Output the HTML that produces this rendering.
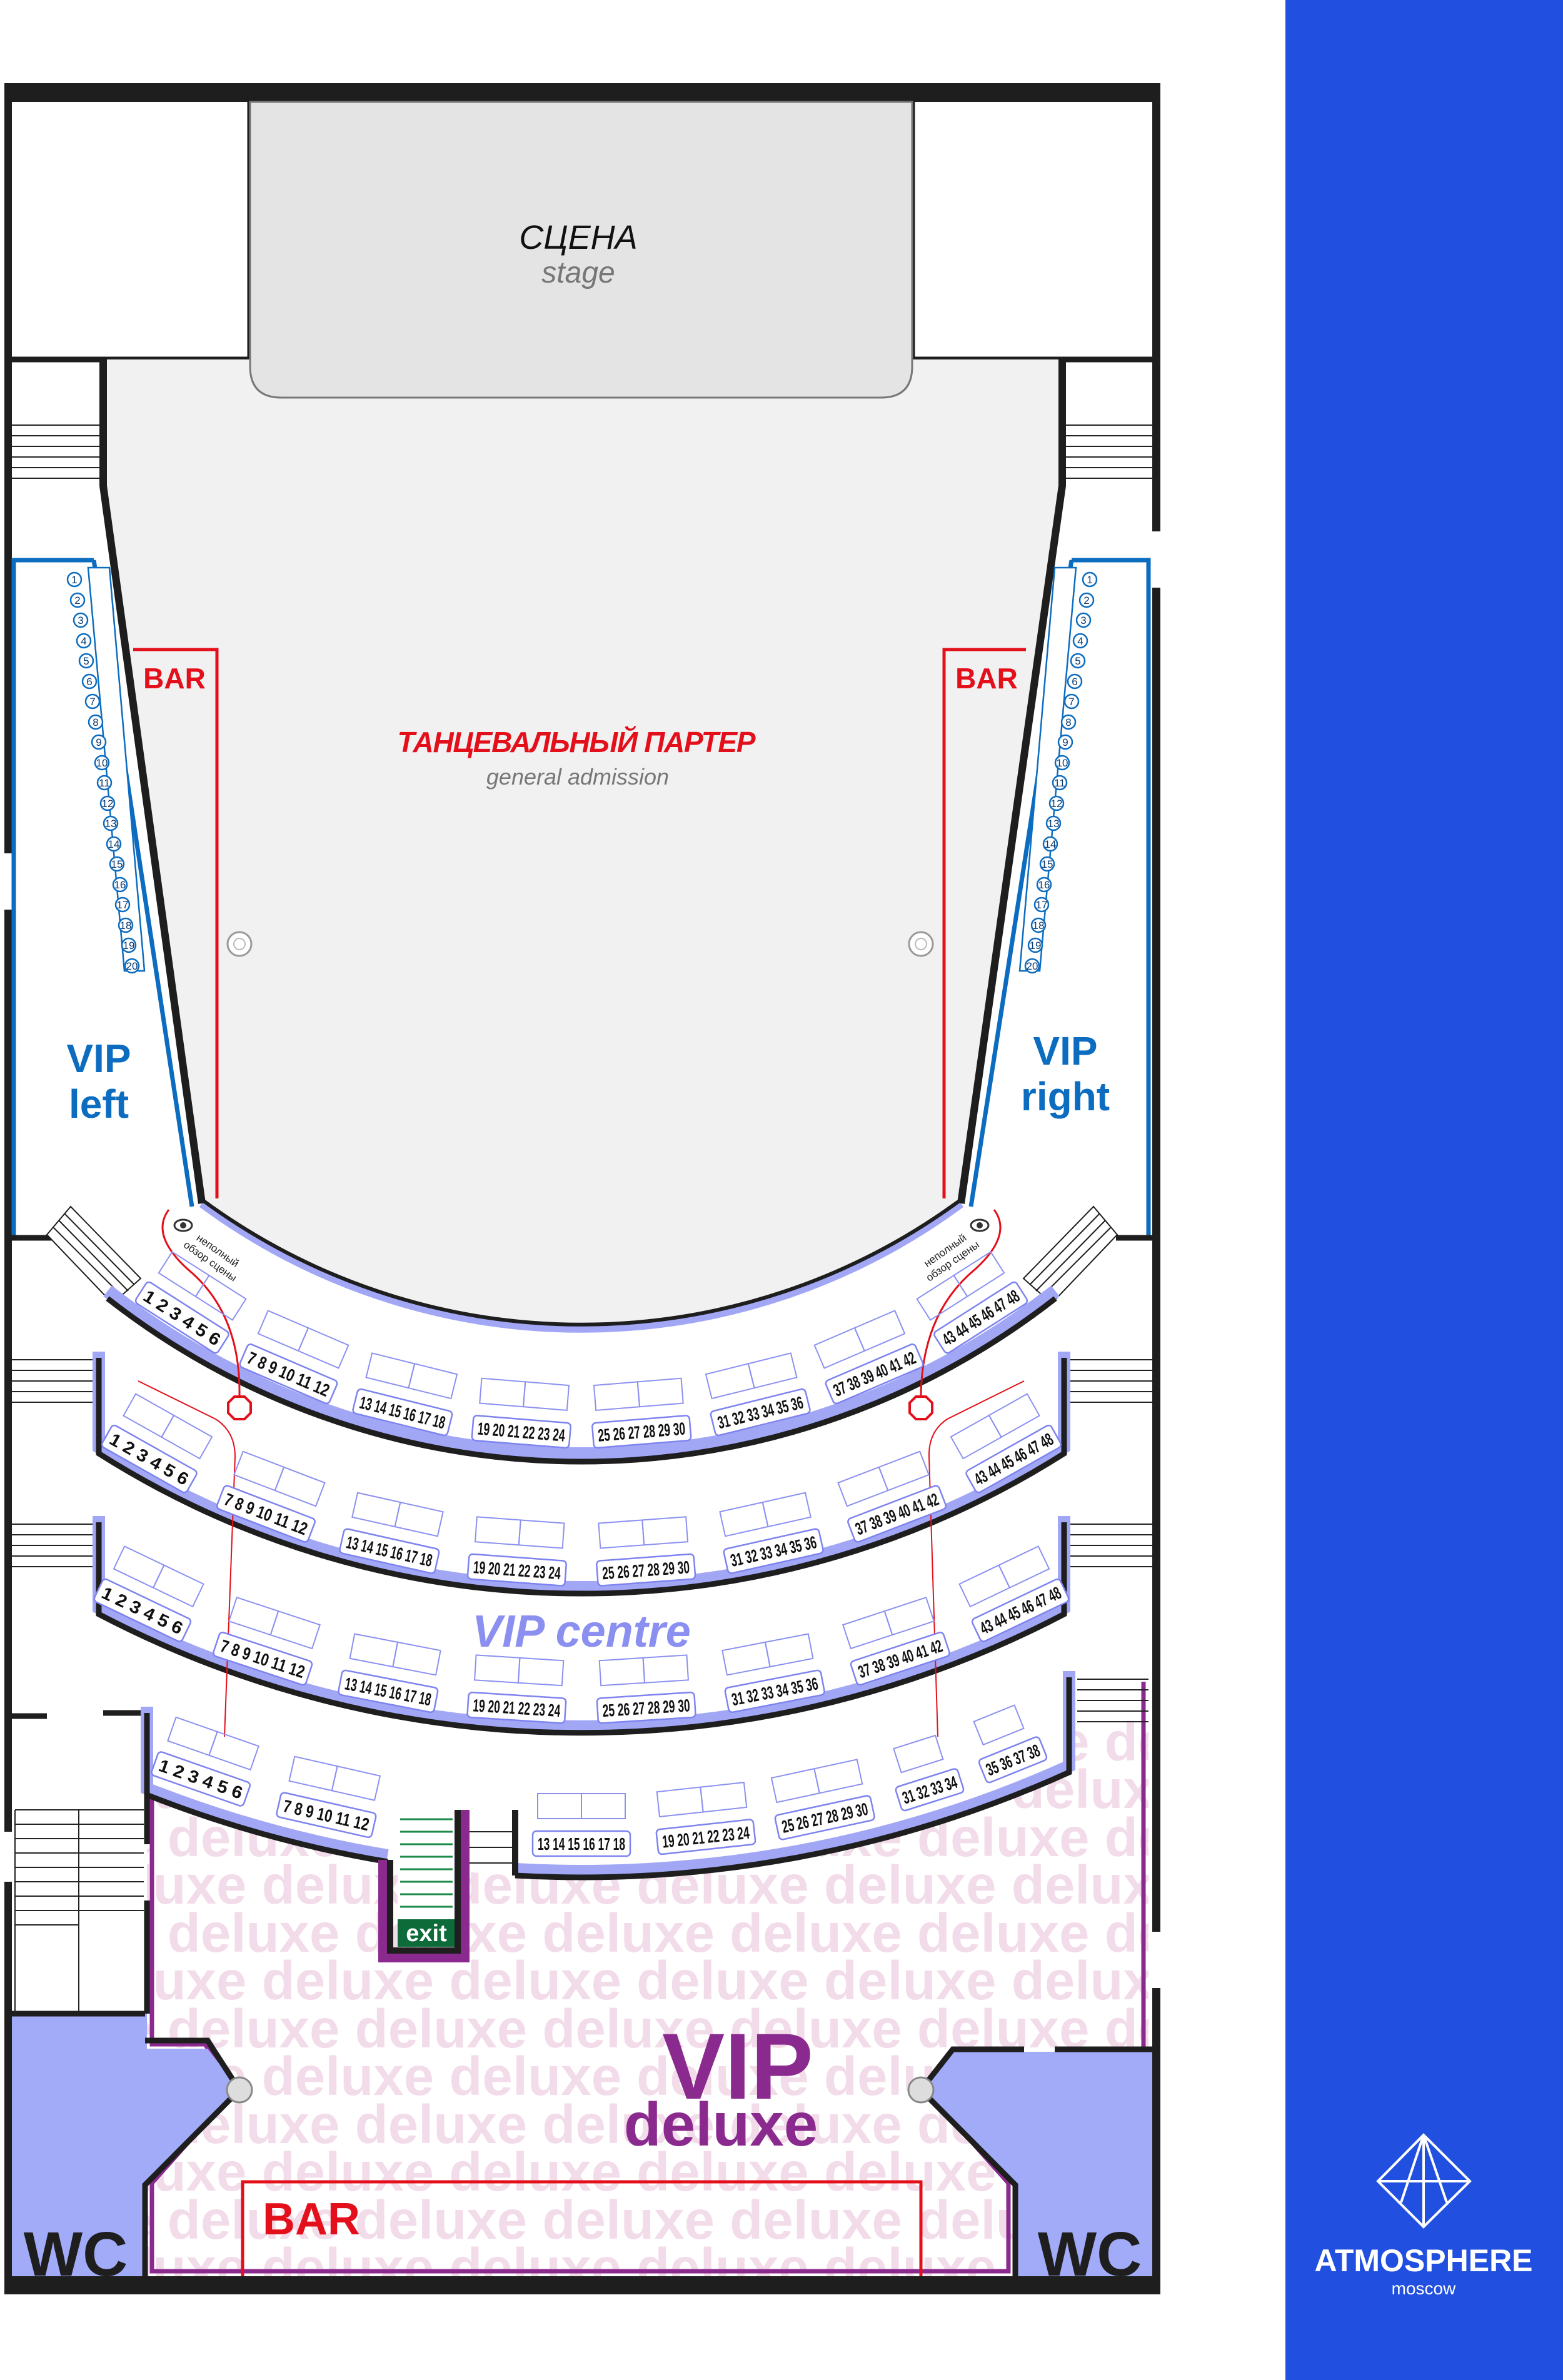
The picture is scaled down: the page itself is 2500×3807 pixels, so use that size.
<!DOCTYPE html>
<html><head><meta charset="utf-8"><style>
html,body{margin:0;padding:0;background:#fff}
svg{display:block}
.s{fill:#fff;stroke:#7d83ef;stroke-width:2.5}
.t{fill:none;stroke:#8c91f0;stroke-width:2}
.n{font-family:"Liberation Sans",sans-serif;font-weight:bold;font-size:28px;fill:#111;text-anchor:middle}
.c{fill:#fff;stroke:#0b6cc0;stroke-width:2.5}
.cn{font-family:"Liberation Sans",sans-serif;font-size:17px;fill:#0b3a70;text-anchor:middle}
.st{stroke:#222;stroke-width:2}
.wm{font-family:"Liberation Sans",sans-serif;font-weight:bold;font-size:87px;fill:#f3dcea}
</style></head><body>
<svg width="2500" height="3807" viewBox="0 0 2500 3807" xmlns="http://www.w3.org/2000/svg">
<defs>
<clipPath id="dl"><path d="M235 2871 A1896 1896 0 0 0 1710 2835 L1710 2683 L1837 2683 L1837 3282 L1524 3282 L1473 3343 L1621 3495 L1621 3641 L235 3641 L235 3495 L383 3343 L332 3277 L235 3277 Z"/></clipPath>
</defs>
<rect width="2500" height="3807" fill="#fff"/>
<rect x="2056" y="0" width="444" height="3807" fill="#2150e0"/>
<g stroke="#fff" stroke-width="4" fill="none">
<polygon points="2277,3415 2351,3489 2277,3562 2204,3489"/>
<line x1="2277" y1="3415" x2="2241" y2="3523"/><line x1="2277" y1="3415" x2="2314" y2="3523"/>
<line x1="2277" y1="3415" x2="2277" y2="3562"/><line x1="2204" y1="3489" x2="2351" y2="3489"/>
</g>
<text x="2277" y="3633" text-anchor="middle" font-family="Liberation Sans,sans-serif" font-weight="bold" font-size="50" fill="#fff">ATMOSPHERE</text>
<text x="2277" y="3670" text-anchor="middle" font-family="Liberation Sans,sans-serif" font-size="28" fill="#fff">moscow</text>

<g clip-path="url(#dl)">
<rect x="0" y="2600" width="1900" height="1100" fill="#fff"/>
<g class="wm">
<text x="-32" y="2816">deluxe deluxe deluxe deluxe deluxe deluxe deluxe deluxe</text>
<text x="-181" y="2892">deluxe deluxe deluxe deluxe deluxe deluxe deluxe deluxe</text>
<text x="-32" y="2969">deluxe deluxe deluxe deluxe deluxe deluxe deluxe deluxe</text>
<text x="-181" y="3045">deluxe deluxe deluxe deluxe deluxe deluxe deluxe deluxe</text>
<text x="-32" y="3122">deluxe deluxe deluxe deluxe deluxe deluxe deluxe deluxe</text>
<text x="-181" y="3198">deluxe deluxe deluxe deluxe deluxe deluxe deluxe deluxe</text>
<text x="-32" y="3275">deluxe deluxe deluxe deluxe deluxe deluxe deluxe deluxe</text>
<text x="-181" y="3351">deluxe deluxe deluxe deluxe deluxe deluxe deluxe deluxe</text>
<text x="-32" y="3428">deluxe deluxe deluxe deluxe deluxe deluxe deluxe deluxe</text>
<text x="-181" y="3504">deluxe deluxe deluxe deluxe deluxe deluxe deluxe deluxe</text>
<text x="-32" y="3581">deluxe deluxe deluxe deluxe deluxe deluxe deluxe deluxe</text>
<text x="-181" y="3657">deluxe deluxe deluxe deluxe deluxe deluxe deluxe deluxe</text>
</g>
</g>
<path d="M243 2871 L243 3270 L328 3270 L376 3343 L243 3492 L243 3633 L1613 3633 L1613 3492 L1480 3343 L1528 3290 L1829 3290 L1829 2690" fill="none" stroke="#8b2a8e" stroke-width="7"/>
<polygon points="19,3221 235,3221 235,3277 332,3277 383,3343 235,3495 235,3641 19,3641" fill="#a2abf8"/>
<polygon points="1845,3282 1524,3282 1473,3343 1621,3495 1621,3641 1845,3641" fill="#a2abf8"/>
<g stroke="#1e1e1e" stroke-width="9" fill="none">
<polyline points="19,3221 232,3221"/>
<polyline points="232,3264 332,3264 383,3343 232,3495 232,3641"/>
<polyline points="1638,3278 1524,3278 1473,3343 1624,3495 1624,3641"/>
<line x1="1687" y1="3278" x2="1845" y2="3278"/>
</g>
<text x="121" y="3640" text-anchor="middle" font-family="Liberation Sans,sans-serif" font-weight="bold" font-size="100" fill="#1e1e1e">WC</text>
<text x="1743" y="3640" text-anchor="middle" font-family="Liberation Sans,sans-serif" font-weight="bold" font-size="100" fill="#1e1e1e">WC</text>
<circle cx="383" cy="3343" r="20" fill="#ddd" stroke="#888" stroke-width="3"/>
<circle cx="1473" cy="3343" r="20" fill="#ddd" stroke="#888" stroke-width="3"/>
<polyline points="388,3641 388,3490 1473,3490 1473,3641" fill="none" stroke="#e3101b" stroke-width="5"/>
<text x="498" y="3574" text-anchor="middle" font-family="Liberation Sans,sans-serif" font-weight="bold" font-size="72" fill="#e3101b">BAR</text>
<text x="1180" y="3357" text-anchor="middle" font-family="Liberation Sans,sans-serif" font-weight="bold" font-size="150" fill="#8b2a8e">VIP</text>
<text x="1153" y="3432" text-anchor="middle" font-family="Liberation Sans,sans-serif" font-weight="bold" font-size="98" fill="#8b2a8e">deluxe</text>

<rect x="7" y="133" width="1849" height="30" fill="#1e1e1e"/>
<rect x="7" y="3641" width="1849" height="29" fill="#1e1e1e"/>
<rect x="7" y="133" width="12" height="3537" fill="#1e1e1e"/>
<rect x="1843" y="133" width="13" height="3537" fill="#1e1e1e"/>
<rect x="7" y="2930" width="14" height="80" fill="#fff"/>
<rect x="1843" y="3090" width="13" height="90" fill="#fff"/>
<rect x="1843" y="850" width="13" height="90" fill="#fff"/>
<rect x="7" y="1365" width="12" height="90" fill="#fff"/>
<g fill="none" stroke="#1e1e1e" stroke-width="9">
<polyline points="19,575 400,575 400,160"/>
<polyline points="1845,575 1459,575 1459,160"/>
</g>
<path d="M165 575 L1699 575 L1699 777 L1537 1925 A1022 1022 0 0 1 323 1925 L165 777 Z" fill="#f1f1f1"/>
<path d="M323 1925 A1022 1022 0 0 0 1537 1925" fill="none" stroke="#a2a7f5" stroke-width="14"/>
<path d="M323 1925 A1022 1022 0 0 0 1537 1925" fill="none" stroke="#1e1e1e" stroke-width="6" transform="translate(0,-6)"/>
<path d="M165 575 L165 777 L323 1925" fill="none" stroke="#1e1e1e" stroke-width="12"/>
<path d="M1699 575 L1699 777 L1537 1925" fill="none" stroke="#1e1e1e" stroke-width="12"/>
<path d="M150 896 L307 1930" fill="none" stroke="#0b6cc0" stroke-width="7"/>
<path d="M1714 896 L1553 1930" fill="none" stroke="#0b6cc0" stroke-width="7"/>
<path d="M400 163 L1459 163 L1459 586 Q1459 636 1409 636 L450 636 Q400 636 400 586 Z" fill="#e4e4e4" stroke="#777" stroke-width="3"/>
<text x="925" y="398" text-anchor="middle" font-family="Liberation Sans,sans-serif" font-style="italic" font-size="54" fill="#111">СЦЕНА</text>
<text x="925" y="452" text-anchor="middle" font-family="Liberation Sans,sans-serif" font-style="italic" font-size="48" fill="#777">stage</text>
<g class="st"><line x1="19" y1="680" x2="160" y2="680"/><line x1="19" y1="697" x2="160" y2="697"/><line x1="19" y1="714" x2="160" y2="714"/><line x1="19" y1="731" x2="160" y2="731"/><line x1="19" y1="748" x2="160" y2="748"/><line x1="19" y1="765" x2="160" y2="765"/>
<line x1="1703" y1="680" x2="1845" y2="680"/><line x1="1703" y1="697" x2="1845" y2="697"/><line x1="1703" y1="714" x2="1845" y2="714"/><line x1="1703" y1="731" x2="1845" y2="731"/><line x1="1703" y1="748" x2="1845" y2="748"/><line x1="1703" y1="765" x2="1845" y2="765"/></g>
<polyline points="150,896 22,896 22,1978" fill="none" stroke="#0b6cc0" stroke-width="7"/>
<polyline points="1714,896 1837,896 1837,1978" fill="none" stroke="#0b6cc0" stroke-width="7"/>
<line x1="7" y1="1980" x2="85" y2="1980" stroke="#1e1e1e" stroke-width="9"/>
<line x1="1785" y1="1980" x2="1856" y2="1980" stroke="#1e1e1e" stroke-width="9"/>
<polygon points="141,908 175,908 231,1553 199,1553" fill="#fff" stroke="#0b6cc0" stroke-width="2.5"/>
<polygon points="1721,908 1687,908 1631,1553 1663,1553" fill="#fff" stroke="#0b6cc0" stroke-width="2.5"/>
<g>
<circle class="c" cx="119" cy="927" r="11"/><circle class="c" cx="124" cy="960" r="11"/><circle class="c" cx="129" cy="992" r="11"/><circle class="c" cx="134" cy="1025" r="11"/><circle class="c" cx="138" cy="1057" r="11"/><circle class="c" cx="143" cy="1090" r="11"/><circle class="c" cx="148" cy="1122" r="11"/><circle class="c" cx="153" cy="1155" r="11"/><circle class="c" cx="158" cy="1187" r="11"/><circle class="c" cx="163" cy="1220" r="11"/><circle class="c" cx="167" cy="1252" r="11"/><circle class="c" cx="172" cy="1285" r="11"/><circle class="c" cx="177" cy="1317" r="11"/><circle class="c" cx="182" cy="1350" r="11"/><circle class="c" cx="187" cy="1382" r="11"/><circle class="c" cx="192" cy="1415" r="11"/><circle class="c" cx="196" cy="1447" r="11"/><circle class="c" cx="201" cy="1480" r="11"/><circle class="c" cx="206" cy="1512" r="11"/><circle class="c" cx="211" cy="1545" r="11"/>
<circle class="c" cx="1743" cy="927" r="11"/><circle class="c" cx="1738" cy="960" r="11"/><circle class="c" cx="1733" cy="992" r="11"/><circle class="c" cx="1728" cy="1025" r="11"/><circle class="c" cx="1724" cy="1057" r="11"/><circle class="c" cx="1719" cy="1090" r="11"/><circle class="c" cx="1714" cy="1122" r="11"/><circle class="c" cx="1709" cy="1155" r="11"/><circle class="c" cx="1704" cy="1187" r="11"/><circle class="c" cx="1699" cy="1220" r="11"/><circle class="c" cx="1695" cy="1252" r="11"/><circle class="c" cx="1690" cy="1285" r="11"/><circle class="c" cx="1685" cy="1317" r="11"/><circle class="c" cx="1680" cy="1350" r="11"/><circle class="c" cx="1675" cy="1382" r="11"/><circle class="c" cx="1670" cy="1415" r="11"/><circle class="c" cx="1666" cy="1447" r="11"/><circle class="c" cx="1661" cy="1480" r="11"/><circle class="c" cx="1656" cy="1512" r="11"/><circle class="c" cx="1651" cy="1545" r="11"/>
</g>
<g class="cn">
<text x="119" y="933">1</text><text x="124" y="966">2</text><text x="129" y="998">3</text><text x="134" y="1031">4</text><text x="138" y="1063">5</text><text x="143" y="1096">6</text><text x="148" y="1128">7</text><text x="153" y="1161">8</text><text x="158" y="1193">9</text><text x="163" y="1226">10</text><text x="167" y="1258">11</text><text x="172" y="1291">12</text><text x="177" y="1323">13</text><text x="182" y="1356">14</text><text x="187" y="1388">15</text><text x="192" y="1421">16</text><text x="196" y="1453">17</text><text x="201" y="1486">18</text><text x="206" y="1518">19</text><text x="211" y="1551">20</text>
<text x="1743" y="933">1</text><text x="1738" y="966">2</text><text x="1733" y="998">3</text><text x="1728" y="1031">4</text><text x="1724" y="1063">5</text><text x="1719" y="1096">6</text><text x="1714" y="1128">7</text><text x="1709" y="1161">8</text><text x="1704" y="1193">9</text><text x="1699" y="1226">10</text><text x="1695" y="1258">11</text><text x="1690" y="1291">12</text><text x="1685" y="1323">13</text><text x="1680" y="1356">14</text><text x="1675" y="1388">15</text><text x="1670" y="1421">16</text><text x="1666" y="1453">17</text><text x="1661" y="1486">18</text><text x="1656" y="1518">19</text><text x="1651" y="1551">20</text>
</g>
<g font-family="Liberation Sans,sans-serif" font-weight="bold" fill="#0b6cc0" text-anchor="middle" font-size="64">
<text x="158" y="1715">VIP</text><text x="158" y="1788">left</text>
<text x="1704" y="1703">VIP</text><text x="1704" y="1776">right</text>
</g>
<polyline points="213,1039 347,1039 347,1917" fill="none" stroke="#e3101b" stroke-width="5"/>
<polyline points="1641,1039 1510,1039 1510,1917" fill="none" stroke="#e3101b" stroke-width="5"/>
<g font-family="Liberation Sans,sans-serif" font-weight="bold" fill="#e3101b" text-anchor="middle" font-size="46">
<text x="279" y="1101">BAR</text><text x="1578" y="1101">BAR</text></g>
<text x="922" y="1203" text-anchor="middle" font-family="Liberation Sans,sans-serif" font-weight="bold" font-style="italic" font-size="46" fill="#e3101b" textLength="573">ТАНЦЕВАЛЬНЫЙ ПАРТЕР</text>
<text x="924" y="1255" text-anchor="middle" font-family="Liberation Sans,sans-serif" font-style="italic" font-size="36" fill="#777">general admission</text>
<circle cx="383" cy="1510" r="19" fill="#fff" stroke="#999" stroke-width="3"/><circle cx="383" cy="1510" r="9" fill="none" stroke="#bbb" stroke-width="2"/>
<circle cx="1473" cy="1510" r="19" fill="#fff" stroke="#999" stroke-width="3"/><circle cx="1473" cy="1510" r="9" fill="none" stroke="#bbb" stroke-width="2"/>

<g fill="#fff" stroke="#1e1e1e" stroke-width="2">
<polygon points="75,1975 113,1930 225,2045 180,2085"/>
<line x1="85" y1="1963" x2="195" y2="2073"/><line x1="94" y1="1952" x2="205" y2="2065"/><line x1="103" y1="1941" x2="215" y2="2055"/>
<polygon points="1787,1975 1749,1930 1637,2045 1682,2085"/>
<line x1="1777" y1="1963" x2="1667" y2="2073"/><line x1="1768" y1="1952" x2="1657" y2="2065"/><line x1="1759" y1="1941" x2="1647" y2="2055"/>
</g>
<g class="st">
<line x1="19" y1="2175" x2="153" y2="2175"/><line x1="19" y1="2192" x2="153" y2="2192"/><line x1="19" y1="2209" x2="153" y2="2209"/><line x1="19" y1="2226" x2="153" y2="2226"/><line x1="19" y1="2243" x2="153" y2="2243"/>
<line x1="19" y1="2438" x2="153" y2="2438"/><line x1="19" y1="2455" x2="153" y2="2455"/><line x1="19" y1="2472" x2="153" y2="2472"/><line x1="19" y1="2489" x2="153" y2="2489"/><line x1="19" y1="2506" x2="153" y2="2506"/>
<line x1="1708" y1="2175" x2="1843" y2="2175"/><line x1="1708" y1="2192" x2="1843" y2="2192"/><line x1="1708" y1="2209" x2="1843" y2="2209"/><line x1="1708" y1="2226" x2="1843" y2="2226"/><line x1="1708" y1="2243" x2="1843" y2="2243"/>
<line x1="1708" y1="2438" x2="1843" y2="2438"/><line x1="1708" y1="2455" x2="1843" y2="2455"/><line x1="1708" y1="2472" x2="1843" y2="2472"/><line x1="1708" y1="2489" x2="1843" y2="2489"/><line x1="1708" y1="2506" x2="1843" y2="2506"/>
<line x1="1723" y1="2686" x2="1837" y2="2686"/><line x1="1723" y1="2703" x2="1837" y2="2703"/><line x1="1723" y1="2720" x2="1837" y2="2720"/><line x1="1723" y1="2737" x2="1837" y2="2737"/><line x1="1723" y1="2754" x2="1837" y2="2754"/>
<line x1="745" y1="2930" x2="822" y2="2930"/><line x1="745" y1="2955" x2="822" y2="2955"/><line x1="745" y1="2980" x2="822" y2="2980"/>
</g>
<g fill="none" stroke="#1e1e1e" stroke-width="9">
<polyline points="19,2745 75,2745"/><polyline points="165,2740 235,2740 235,2950"/><line x1="235" y1="3040" x2="235" y2="3221"/>
</g>
<g class="st">
<line x1="24" y1="2895" x2="230" y2="2895"/><line x1="24" y1="2918" x2="230" y2="2918"/><line x1="24" y1="2941" x2="230" y2="2941"/><line x1="24" y1="2964" x2="230" y2="2964"/><line x1="24" y1="2987" x2="230" y2="2987"/><line x1="24" y1="3010" x2="230" y2="3010"/><line x1="24" y1="3033" x2="230" y2="3033"/><line x1="24" y1="3056" x2="230" y2="3056"/><line x1="24" y1="3079" x2="126" y2="3079"/>
<line x1="126" y1="2895" x2="126" y2="3221"/><line x1="24" y1="2895" x2="24" y2="3221"/>
</g>

<g fill="none">
<path d="M172 2077 A1231 1231 0 0 0 1688 2077" stroke="#a2a7f5" stroke-width="22" transform="translate(0,-12)"/>
<path d="M172 2077 A1231 1231 0 0 0 1688 2077" stroke="#1e1e1e" stroke-width="9"/>
<path d="M158 2172 L158 2325 A1442 1442 0 0 0 1702 2325 L1702 2172" stroke="#a2a7f5" stroke-width="20" transform="translate(0,-10)"/>
<path d="M158 2172 L158 2325 A1442 1442 0 0 0 1702 2325 L1702 2172" stroke="#1e1e1e" stroke-width="9"/>
<path d="M158 2435 L158 2582 A1665 1665 0 0 0 1702 2582 L1702 2435" stroke="#a2a7f5" stroke-width="20" transform="translate(0,-10)"/>
<path d="M158 2435 L158 2582 A1665 1665 0 0 0 1702 2582 L1702 2435" stroke="#1e1e1e" stroke-width="9"/>
<path d="M235 2740 L235 2871 A1896 1896 0 0 0 620 2978" stroke="#a2a7f5" stroke-width="20" transform="translate(0,-10)"/>
<path d="M235 2740 L235 2871 A1896 1896 0 0 0 620 2978" stroke="#1e1e1e" stroke-width="9"/>
<path d="M824 3000 A1896 1896 0 0 0 1710 2835 L1710 2683" stroke="#a2a7f5" stroke-width="20" transform="translate(0,-10)"/>
<path d="M824 3000 A1896 1896 0 0 0 1710 2835 L1710 2683" stroke="#1e1e1e" stroke-width="9"/>
</g>
<rect x="636" y="2900" width="92" height="170" fill="#fff"/>
<g stroke="#1c8a4a" stroke-width="3"><line x1="640" y1="2910" x2="724" y2="2910"/><line x1="640" y1="2930" x2="724" y2="2930"/><line x1="640" y1="2950" x2="724" y2="2950"/><line x1="640" y1="2970" x2="724" y2="2970"/><line x1="640" y1="2990" x2="724" y2="2990"/><line x1="640" y1="3010" x2="724" y2="3010"/><line x1="640" y1="3030" x2="724" y2="3030"/><line x1="640" y1="3050" x2="724" y2="3050"/></g>
<rect x="636" y="3070" width="92" height="44" fill="#0d6b3a"/>
<text x="682" y="3105" text-anchor="middle" font-family="Liberation Sans,sans-serif" font-weight="bold" font-size="38" fill="#fff">exit</text>
<polyline points="614,2975 614,3130 742,3130 742,2895" fill="none" stroke="#8b2a8e" stroke-width="18"/>
<polyline points="624,2975 624,3120 732,3120 732,2895" fill="none" stroke="#1e1e1e" stroke-width="10"/>
<line x1="824" y1="2895" x2="824" y2="3000" stroke="#1e1e1e" stroke-width="10"/>

<g fill="none" stroke="#e3101b">
<path d="M270 1935 Q240 1975 300 2030 Q385 2100 383 2232" stroke-width="3"/>
<path d="M1590 1935 Q1620 1975 1560 2030 Q1475 2100 1473 2232" stroke-width="3"/>
<path d="M221 2209 L345 2270 Q376 2290 376 2330 L359 2778" stroke-width="2"/>
<path d="M1638 2209 L1515 2270 Q1485 2290 1486 2330 L1500 2778" stroke-width="2"/>
<polygon points="375,2234 391,2234 401,2244 401,2260 391,2270 375,2270 365,2260 365,2244" stroke-width="4"/>
<polygon points="1465,2234 1481,2234 1491,2244 1491,2260 1481,2270 1465,2270 1455,2260 1455,2244" stroke-width="4"/>
</g>
<ellipse cx="293" cy="1960" rx="14" ry="9" fill="#fff" stroke="#333" stroke-width="3"/><circle cx="293" cy="1960" r="5" fill="#333"/>
<ellipse cx="1567" cy="1960" rx="14" ry="9" fill="#fff" stroke="#333" stroke-width="3"/><circle cx="1567" cy="1960" r="5" fill="#333"/>
<g font-family="Liberation Sans,sans-serif" font-size="17" fill="#222" text-anchor="middle">
<text transform="translate(345,2005) rotate(35)">неполный</text><text transform="translate(333,2022) rotate(35)">обзор сцены</text>
<text transform="translate(1515,2005) rotate(-35)">неполный</text><text transform="translate(1527,2022) rotate(-35)">обзор сцены</text>
</g>

<text x="930" y="2634" text-anchor="middle" font-family="Liberation Sans,sans-serif" font-weight="bold" font-style="italic" font-size="72" fill="#8a8ff0">VIP centre</text>

<g>
<g transform="rotate(32.55 930 1107) translate(930 2294)"><rect class="t" x="-70" y="-80" width="70" height="40"/><rect class="t" x="0" y="-80" width="70" height="40"/><rect class="s" x="-78" y="-20" width="156" height="40" rx="6"/><text class="n" y="10" textLength="140" lengthAdjust="spacingAndGlyphs">1 2 3 4 5 6</text></g>
<g transform="rotate(23.25 930 1107) translate(930 2294)"><rect class="t" x="-70" y="-80" width="70" height="40"/><rect class="t" x="0" y="-80" width="70" height="40"/><rect class="s" x="-78" y="-20" width="156" height="40" rx="6"/><text class="n" y="10" textLength="140" lengthAdjust="spacingAndGlyphs">7 8 9 10 11 12</text></g>
<g transform="rotate(13.95 930 1107) translate(930 2294)"><rect class="t" x="-70" y="-80" width="70" height="40"/><rect class="t" x="0" y="-80" width="70" height="40"/><rect class="s" x="-78" y="-20" width="156" height="40" rx="6"/><text class="n" y="10" textLength="140" lengthAdjust="spacingAndGlyphs">13 14 15 16 17 18</text></g>
<g transform="rotate(4.65 930 1107) translate(930 2294)"><rect class="t" x="-70" y="-80" width="70" height="40"/><rect class="t" x="0" y="-80" width="70" height="40"/><rect class="s" x="-78" y="-20" width="156" height="40" rx="6"/><text class="n" y="10" textLength="140" lengthAdjust="spacingAndGlyphs">19 20 21 22 23 24</text></g>
<g transform="rotate(-4.65 930 1107) translate(930 2294)"><rect class="t" x="-70" y="-80" width="70" height="40"/><rect class="t" x="0" y="-80" width="70" height="40"/><rect class="s" x="-78" y="-20" width="156" height="40" rx="6"/><text class="n" y="10" textLength="140" lengthAdjust="spacingAndGlyphs">25 26 27 28 29 30</text></g>
<g transform="rotate(-13.95 930 1107) translate(930 2294)"><rect class="t" x="-70" y="-80" width="70" height="40"/><rect class="t" x="0" y="-80" width="70" height="40"/><rect class="s" x="-78" y="-20" width="156" height="40" rx="6"/><text class="n" y="10" textLength="140" lengthAdjust="spacingAndGlyphs">31 32 33 34 35 36</text></g>
<g transform="rotate(-23.25 930 1107) translate(930 2294)"><rect class="t" x="-70" y="-80" width="70" height="40"/><rect class="t" x="0" y="-80" width="70" height="40"/><rect class="s" x="-78" y="-20" width="156" height="40" rx="6"/><text class="n" y="10" textLength="140" lengthAdjust="spacingAndGlyphs">37 38 39 40 41 42</text></g>
<g transform="rotate(-32.55 930 1107) translate(930 2294)"><rect class="t" x="-70" y="-80" width="70" height="40"/><rect class="t" x="0" y="-80" width="70" height="40"/><rect class="s" x="-78" y="-20" width="156" height="40" rx="6"/><text class="n" y="10" textLength="140" lengthAdjust="spacingAndGlyphs">43 44 45 46 47 48</text></g>
</g>
<g>
<g transform="rotate(29.4 930 1107) translate(930 2515)"><rect class="t" x="-70" y="-80" width="70" height="40"/><rect class="t" x="0" y="-80" width="70" height="40"/><rect class="s" x="-78" y="-20" width="156" height="40" rx="6"/><text class="n" y="10" textLength="140" lengthAdjust="spacingAndGlyphs">1 2 3 4 5 6</text></g>
<g transform="rotate(21 930 1107) translate(930 2515)"><rect class="t" x="-70" y="-80" width="70" height="40"/><rect class="t" x="0" y="-80" width="70" height="40"/><rect class="s" x="-78" y="-20" width="156" height="40" rx="6"/><text class="n" y="10" textLength="140" lengthAdjust="spacingAndGlyphs">7 8 9 10 11 12</text></g>
<g transform="rotate(12.6 930 1107) translate(930 2515)"><rect class="t" x="-70" y="-80" width="70" height="40"/><rect class="t" x="0" y="-80" width="70" height="40"/><rect class="s" x="-78" y="-20" width="156" height="40" rx="6"/><text class="n" y="10" textLength="140" lengthAdjust="spacingAndGlyphs">13 14 15 16 17 18</text></g>
<g transform="rotate(4.2 930 1107) translate(930 2515)"><rect class="t" x="-70" y="-80" width="70" height="40"/><rect class="t" x="0" y="-80" width="70" height="40"/><rect class="s" x="-78" y="-20" width="156" height="40" rx="6"/><text class="n" y="10" textLength="140" lengthAdjust="spacingAndGlyphs">19 20 21 22 23 24</text></g>
<g transform="rotate(-4.2 930 1107) translate(930 2515)"><rect class="t" x="-70" y="-80" width="70" height="40"/><rect class="t" x="0" y="-80" width="70" height="40"/><rect class="s" x="-78" y="-20" width="156" height="40" rx="6"/><text class="n" y="10" textLength="140" lengthAdjust="spacingAndGlyphs">25 26 27 28 29 30</text></g>
<g transform="rotate(-12.6 930 1107) translate(930 2515)"><rect class="t" x="-70" y="-80" width="70" height="40"/><rect class="t" x="0" y="-80" width="70" height="40"/><rect class="s" x="-78" y="-20" width="156" height="40" rx="6"/><text class="n" y="10" textLength="140" lengthAdjust="spacingAndGlyphs">31 32 33 34 35 36</text></g>
<g transform="rotate(-21 930 1107) translate(930 2515)"><rect class="t" x="-70" y="-80" width="70" height="40"/><rect class="t" x="0" y="-80" width="70" height="40"/><rect class="s" x="-78" y="-20" width="156" height="40" rx="6"/><text class="n" y="10" textLength="140" lengthAdjust="spacingAndGlyphs">37 38 39 40 41 42</text></g>
<g transform="rotate(-29.4 930 1107) translate(930 2515)"><rect class="t" x="-70" y="-80" width="70" height="40"/><rect class="t" x="0" y="-80" width="70" height="40"/><rect class="s" x="-78" y="-20" width="156" height="40" rx="6"/><text class="n" y="10" textLength="140" lengthAdjust="spacingAndGlyphs">43 44 45 46 47 48</text></g>
</g>
<g>
<g transform="rotate(25.55 930 1107) translate(930 2735)"><rect class="t" x="-70" y="-80" width="70" height="40"/><rect class="t" x="0" y="-80" width="70" height="40"/><rect class="s" x="-78" y="-20" width="156" height="40" rx="6"/><text class="n" y="10" textLength="140" lengthAdjust="spacingAndGlyphs">1 2 3 4 5 6</text></g>
<g transform="rotate(18.25 930 1107) translate(930 2735)"><rect class="t" x="-70" y="-80" width="70" height="40"/><rect class="t" x="0" y="-80" width="70" height="40"/><rect class="s" x="-78" y="-20" width="156" height="40" rx="6"/><text class="n" y="10" textLength="140" lengthAdjust="spacingAndGlyphs">7 8 9 10 11 12</text></g>
<g transform="rotate(10.95 930 1107) translate(930 2735)"><rect class="t" x="-70" y="-80" width="70" height="40"/><rect class="t" x="0" y="-80" width="70" height="40"/><rect class="s" x="-78" y="-20" width="156" height="40" rx="6"/><text class="n" y="10" textLength="140" lengthAdjust="spacingAndGlyphs">13 14 15 16 17 18</text></g>
<g transform="rotate(3.65 930 1107) translate(930 2735)"><rect class="t" x="-70" y="-80" width="70" height="40"/><rect class="t" x="0" y="-80" width="70" height="40"/><rect class="s" x="-78" y="-20" width="156" height="40" rx="6"/><text class="n" y="10" textLength="140" lengthAdjust="spacingAndGlyphs">19 20 21 22 23 24</text></g>
<g transform="rotate(-3.65 930 1107) translate(930 2735)"><rect class="t" x="-70" y="-80" width="70" height="40"/><rect class="t" x="0" y="-80" width="70" height="40"/><rect class="s" x="-78" y="-20" width="156" height="40" rx="6"/><text class="n" y="10" textLength="140" lengthAdjust="spacingAndGlyphs">25 26 27 28 29 30</text></g>
<g transform="rotate(-10.95 930 1107) translate(930 2735)"><rect class="t" x="-70" y="-80" width="70" height="40"/><rect class="t" x="0" y="-80" width="70" height="40"/><rect class="s" x="-78" y="-20" width="156" height="40" rx="6"/><text class="n" y="10" textLength="140" lengthAdjust="spacingAndGlyphs">31 32 33 34 35 36</text></g>
<g transform="rotate(-18.25 930 1107) translate(930 2735)"><rect class="t" x="-70" y="-80" width="70" height="40"/><rect class="t" x="0" y="-80" width="70" height="40"/><rect class="s" x="-78" y="-20" width="156" height="40" rx="6"/><text class="n" y="10" textLength="140" lengthAdjust="spacingAndGlyphs">37 38 39 40 41 42</text></g>
<g transform="rotate(-25.55 930 1107) translate(930 2735)"><rect class="t" x="-70" y="-80" width="70" height="40"/><rect class="t" x="0" y="-80" width="70" height="40"/><rect class="s" x="-78" y="-20" width="156" height="40" rx="6"/><text class="n" y="10" textLength="140" lengthAdjust="spacingAndGlyphs">43 44 45 46 47 48</text></g>
</g>
<g>
<g transform="rotate(19.3 930 1107) translate(930 2949)"><rect class="t" x="-70" y="-80" width="70" height="40"/><rect class="t" x="0" y="-80" width="70" height="40"/><rect class="s" x="-78" y="-20" width="156" height="40" rx="6"/><text class="n" y="10" textLength="140" lengthAdjust="spacingAndGlyphs">1 2 3 4 5 6</text></g>
<g transform="rotate(12.8 930 1107) translate(930 2949)"><rect class="t" x="-70" y="-80" width="70" height="40"/><rect class="t" x="0" y="-80" width="70" height="40"/><rect class="s" x="-78" y="-20" width="156" height="40" rx="6"/><text class="n" y="10" textLength="140" lengthAdjust="spacingAndGlyphs">7 8 9 10 11 12</text></g>
<g transform="rotate(0 930 1107) translate(930 2949)"><rect class="t" x="-70" y="-80" width="70" height="40"/><rect class="t" x="0" y="-80" width="70" height="40"/><rect class="s" x="-78" y="-20" width="156" height="40" rx="6"/><text class="n" y="10" textLength="140" lengthAdjust="spacingAndGlyphs">13 14 15 16 17 18</text></g>
<g transform="rotate(-6.2 930 1107) translate(930 2949)"><rect class="t" x="-70" y="-80" width="70" height="40"/><rect class="t" x="0" y="-80" width="70" height="40"/><rect class="s" x="-78" y="-20" width="156" height="40" rx="6"/><text class="n" y="10" textLength="140" lengthAdjust="spacingAndGlyphs">19 20 21 22 23 24</text></g>
<g transform="rotate(-12.2 930 1107) translate(930 2949)"><rect class="t" x="-70" y="-80" width="70" height="40"/><rect class="t" x="0" y="-80" width="70" height="40"/><rect class="s" x="-78" y="-20" width="156" height="40" rx="6"/><text class="n" y="10" textLength="140" lengthAdjust="spacingAndGlyphs">25 26 27 28 29 30</text></g>
<g transform="rotate(-17.6 930 1107) translate(930 2949)"><rect class="t" x="-35" y="-80" width="70" height="40"/><rect class="s" x="-52" y="-20" width="104" height="40" rx="6"/><text class="n" y="10" textLength="90" lengthAdjust="spacingAndGlyphs">31 32 33 34</text></g>
<g transform="rotate(-22 930 1107) translate(930 2949)"><rect class="t" x="-35" y="-80" width="70" height="40"/><rect class="s" x="-52" y="-20" width="104" height="40" rx="6"/><text class="n" y="10" textLength="90" lengthAdjust="spacingAndGlyphs">35 36 37 38</text></g>
</g>
</svg>
</body></html>
